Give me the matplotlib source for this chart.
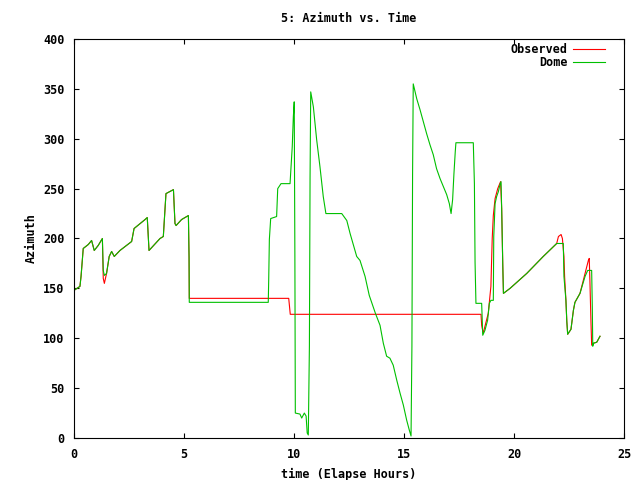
import matplotlib
matplotlib.use("Agg")
import matplotlib.pyplot as plt

# Dome azimuth (green)
dome_t = [0.0, 0.27, 0.32, 0.42, 0.65, 0.8, 0.92, 1.1, 1.29, 1.33, 1.38, 1.48, 1.6, 1.71,
          1.83, 2.09, 2.62, 2.73, 3.23, 3.33, 3.41, 3.91, 4.06, 4.18, 4.52, 4.59, 4.64,
          4.89, 5.2, 5.23, 5.24, 8.83, 8.85, 8.88, 8.94, 9.21, 9.26, 9.41, 9.82, 9.86,
          9.92, 9.97, 10.01, 10.04, 10.06, 10.27, 10.35, 10.47, 10.55, 10.6, 10.65,
          10.7, 10.73, 10.76, 10.88, 11.03, 11.18, 11.33, 11.45, 12.17, 12.4, 12.55,
          12.85, 13.0, 13.23, 13.42, 13.7, 13.91, 14.06, 14.21, 14.36, 14.51, 14.67,
          14.82, 14.97, 15.12, 15.24, 15.32, 15.36, 15.39, 15.42, 15.58, 15.73, 15.88,
          16.03, 16.18, 16.33, 16.48, 16.64, 16.79, 16.94, 17.06, 17.14, 17.21, 17.27,
          17.33, 17.36, 18.15, 18.2, 18.23, 18.27, 18.53, 18.58, 18.68, 18.8, 18.88,
          18.95, 19.06, 19.08, 19.14, 19.21, 19.29, 19.36, 19.41, 19.44, 19.49, 19.52,
          19.82, 20.58, 21.33, 21.94, 22.24, 22.27, 22.36, 22.4, 22.44, 22.59, 22.7,
          22.77, 23.0, 23.23, 23.35, 23.53, 23.56, 23.58, 23.61, 23.76, 23.91]
dome_az = [148, 152, 162, 190, 194, 198, 188, 193, 200, 168, 163, 165, 182, 187,
           182, 188, 197, 210, 219, 221, 188, 200, 202, 245, 249, 215, 213,
           219, 223, 181, 136, 136, 158, 199, 220, 222, 250, 255, 255, 270,
           292, 322, 337, 182, 25, 24, 20, 25, 22, 5, 3,
           92, 262, 347, 332, 299, 272, 242, 225, 225, 218, 205,
           182, 178, 162, 143, 125, 113, 95, 82, 80, 73, 58,
           45, 33, 18, 8, 2, 92, 265, 355, 340, 329, 317,
           305, 294, 284, 270, 260, 252, 244, 235, 225, 239, 265,
           287, 296, 296, 255, 176, 135, 135, 103, 108, 118, 135,
           138, 138, 202, 235, 242, 247, 254, 257, 230, 173, 145,
           150, 165, 182, 195, 195, 162, 138, 117, 104, 109, 128,
           136, 145, 162, 168, 168, 130, 92, 95, 96, 102]

# Observed azimuth (red)
obs_t = [0.0, 0.27, 0.32, 0.42, 0.65, 0.8, 0.92, 1.1, 1.29, 1.33, 1.38, 1.48, 1.6, 1.71,
         1.83, 2.09, 2.62, 2.73, 3.23, 3.33, 3.41, 3.91, 4.06, 4.18, 4.52, 4.59, 4.64,
         4.89, 5.2, 5.23, 5.24, 9.76, 9.83, 18.5, 18.53, 18.6, 18.83, 18.95, 19.01,
         19.06, 19.14, 19.26, 19.39, 19.44, 19.49, 19.52, 19.82, 20.58, 21.33, 21.94,
         22.02, 22.14, 22.2, 22.27, 22.3, 22.36, 22.4, 22.44, 22.59, 22.7, 22.77, 23.0,
         23.23, 23.38, 23.42, 23.45, 23.5, 23.53, 23.61, 23.76, 23.91]
obs_az = [148, 152, 162, 190, 194, 198, 188, 193, 200, 160, 155, 165, 182, 187,
          182, 188, 197, 210, 219, 221, 188, 200, 202, 245, 249, 215, 213,
          219, 223, 181, 140, 140, 124, 124, 113, 105, 125, 152, 200,
          223, 240, 250, 257, 230, 173, 145, 150, 165, 182, 195,
          202, 204, 200, 182, 162, 138, 117, 104, 109, 128, 136, 145,
          165, 178, 180, 158, 115, 93, 95, 96, 102]

plt.rcParams['font.family'] = ['DejaVu Sans Mono']
plt.rcParams['font.size'] = 8.5
plt.rcParams['font.weight'] = 'bold'
plt.rcParams['axes.labelweight'] = 'bold'

fig = plt.figure(figsize=(6.4, 4.8), dpi=100)
ax = fig.add_axes([74 / 640, 1 - 438 / 480, 550 / 640, 399 / 480])

ax.plot(obs_t, obs_az, color='#ff0000', lw=0.8, label='Observed')
ax.plot(dome_t, dome_az, color='#00c000', lw=0.8, label='Dome')

ax.set_xlim(0, 25)
ax.set_ylim(0, 400)
ax.set_xticks(range(0, 26, 5))
ax.set_yticks(range(0, 401, 50))
ax.tick_params(axis='both', direction='in', length=3.5, top=True, right=True, width=0.8)
ax.tick_params(axis='y', pad=7)
ax.tick_params(axis='x', pad=7)
for s in ax.spines.values():
    s.set_linewidth(0.8)

ax.set_xlabel('time (Elapse Hours)', labelpad=5)
ax.set_ylabel('Azimuth', labelpad=4)
fig.text((74 + 624) / 2 / 640, 1 - 18 / 480, '5: Azimuth vs. Time', ha='center', va='center')

ax.legend(loc='upper right', frameon=False, markerfirst=False, handlelength=2.7,
          handletextpad=0.5, labelspacing=0.05, borderaxespad=0.0,
          bbox_to_anchor=(1 - 14 / 550, 1 + 1 / 399))

fig.savefig('out.png', dpi=100)
